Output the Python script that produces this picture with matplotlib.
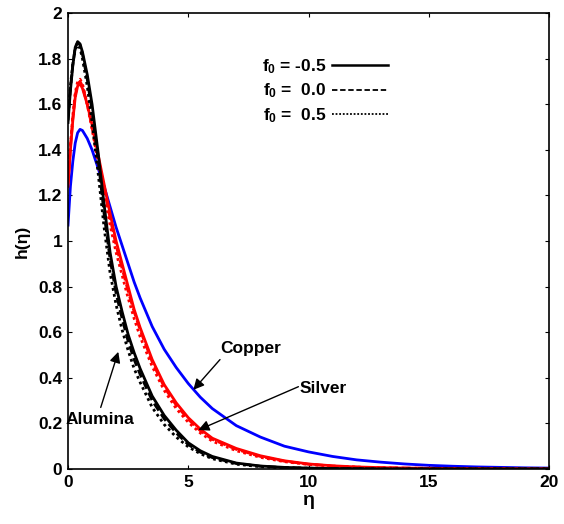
import matplotlib
matplotlib.use("Agg")
import matplotlib.pyplot as plt

plt.rcParams["font.family"] = ["Liberation Sans", "DejaVu Sans"]
plt.rcParams["font.weight"] = "bold"
plt.rcParams["mathtext.fontset"] = "custom"
plt.rcParams["mathtext.rm"] = "Liberation Sans:bold"
plt.rcParams["mathtext.bf"] = "Liberation Sans:bold"
plt.rcParams["mathtext.it"] = "Liberation Sans:bold"

# similarity variable
eta = [0, 0.1, 0.2, 0.3, 0.4, 0.5, 0.6, 0.8, 1.0, 1.25, 1.5, 1.75, 2.0, 2.25,
       2.5, 2.75, 3.0, 3.5, 4.0, 4.5, 5.0, 5.5, 6.0, 7, 8, 9, 10, 11, 12, 13,
       14, 15, 16, 17, 18, 19, 20]

# Copper (the three f0 cases coincide)
h_copper = [1.07, 1.24, 1.35, 1.43, 1.475, 1.49, 1.485, 1.45, 1.40, 1.32, 1.24,
            1.15, 1.06, 0.98, 0.90, 0.82, 0.75, 0.625, 0.525, 0.445, 0.375,
            0.315, 0.265, 0.19, 0.14, 0.10, 0.075, 0.055, 0.04, 0.03, 0.022,
            0.016, 0.012, 0.009, 0.007, 0.005, 0.004]

# Silver
h_silver_m05 = [1.24, 1.40, 1.53, 1.63, 1.68, 1.69, 1.67, 1.60, 1.51, 1.38, 1.25,
                1.12, 1.00, 0.90, 0.80, 0.70, 0.62, 0.48, 0.37, 0.29, 0.225,
                0.175, 0.135, 0.09, 0.058, 0.036, 0.022, 0.014, 0.009, 0.006,
                0.004, 0.003, 0.002, 0.001, 0.001, 0.0, 0.0]
h_silver_00 = [1.25, 1.41, 1.54, 1.64, 1.69, 1.70, 1.68, 1.60, 1.50, 1.37, 1.23,
               1.10, 0.98, 0.88, 0.78, 0.69, 0.61, 0.47, 0.36, 0.28, 0.218,
               0.168, 0.13, 0.086, 0.055, 0.034, 0.021, 0.013, 0.008, 0.005,
               0.004, 0.003, 0.002, 0.001, 0.001, 0.0, 0.0]
h_silver_p05 = [1.26, 1.42, 1.55, 1.65, 1.70, 1.71, 1.69, 1.60, 1.49, 1.35, 1.21,
                1.07, 0.95, 0.85, 0.75, 0.66, 0.58, 0.45, 0.345, 0.265, 0.205,
                0.158, 0.122, 0.08, 0.051, 0.032, 0.02, 0.012, 0.008, 0.005,
                0.003, 0.002, 0.001, 0.001, 0.0, 0.0, 0.0]

# Alumina
h_alumina_m05 = [1.52, 1.66, 1.77, 1.85, 1.875, 1.865, 1.83, 1.73, 1.60, 1.39,
                 1.16, 0.95, 0.80, 0.69, 0.59, 0.51, 0.44, 0.32, 0.235, 0.17,
                 0.115, 0.08, 0.055, 0.026, 0.013, 0.007, 0.004, 0.002, 0.001,
                 0.0, 0.0, 0.0, 0.0, 0.0, 0.0, 0.0, 0.0]
h_alumina_00 = [1.53, 1.67, 1.775, 1.85, 1.87, 1.86, 1.82, 1.71, 1.57, 1.36,
                1.12, 0.92, 0.77, 0.66, 0.56, 0.48, 0.415, 0.30, 0.22, 0.158,
                0.107, 0.074, 0.05, 0.024, 0.012, 0.006, 0.003, 0.002, 0.001,
                0.0, 0.0, 0.0, 0.0, 0.0, 0.0, 0.0, 0.0]
h_alumina_p05 = [1.55, 1.68, 1.78, 1.84, 1.86, 1.845, 1.80, 1.68, 1.52, 1.30,
                 1.06, 0.86, 0.72, 0.61, 0.52, 0.44, 0.38, 0.27, 0.195, 0.14,
                 0.097, 0.067, 0.045, 0.021, 0.010, 0.005, 0.003, 0.001, 0.001,
                 0.0, 0.0, 0.0, 0.0, 0.0, 0.0, 0.0, 0.0]

legend_labels = [r"$\mathbf{f_0}$ = -0.5", r"$\mathbf{f_0}$ =  0.0", r"$\mathbf{f_0}$ =  0.5"]
x_ticks = [0, 5, 10, 15, 20]
y_ticks = [0, 0.2, 0.4, 0.6, 0.8, 1, 1.2, 1.4, 1.6, 1.8, 2]
y_ticklabels = ["0", "0.2", "0.4", "0.6", "0.8", "1", "1.2", "1.4", "1.6", "1.8", "2"]

fig = plt.figure(figsize=(5.64, 5.24), dpi=100)
ax = fig.add_axes([0.1206, 0.105, 0.8528, 0.870])

lw = 2.0
ax.plot(eta, h_copper, color="blue", lw=lw, ls="-")

ax.plot(eta, h_silver_m05, color="red", lw=lw, ls="-")
ax.plot(eta, h_silver_00, color="red", lw=lw, ls=(0, (3, 1.5)))
ax.plot(eta, h_silver_p05, color="red", lw=lw, ls=(0, (1, 1.2)))

ax.plot(eta, h_alumina_m05, color="black", lw=lw, ls="-")
ax.plot(eta, h_alumina_00, color="black", lw=lw, ls=(0, (3, 1.5)))
ax.plot(eta, h_alumina_p05, color="black", lw=lw, ls=(0, (1, 1.2)))

# legend handles (style key only)
h1, = ax.plot([], [], color="black", lw=1.8, ls="-")
h2, = ax.plot([], [], color="black", lw=1.3, ls=(0, (3, 1.5)))
h3, = ax.plot([], [], color="black", lw=1.3, ls=(0, (1, 1)))
ax.legend([h1, h2, h3], legend_labels, loc="upper left",
          bbox_to_anchor=(0.371, 0.937), frameon=False, markerfirst=False,
          handlelength=3.25, handletextpad=0.3, labelspacing=0.32,
          prop={"family": "Liberation Sans", "weight": "bold", "size": 12.5})

ax.set_xlim(0, 20)
ax.set_ylim(0, 2)
ax.set_xticks(x_ticks)
ax.set_yticks(y_ticks)
ax.set_yticklabels(y_ticklabels)
ax.tick_params(direction="in", length=3, width=0.8, labelsize=12.5,
               top=True, right=True, pad=4)
for lab in ax.get_xticklabels() + ax.get_yticklabels():
    lab.set_fontweight("bold")
for sp in ax.spines.values():
    sp.set_linewidth(1.2)

ax.set_xlabel("η", fontsize=14, fontweight="bold", labelpad=2)
ax.set_ylabel("h(η)", fontsize=12.5, fontweight="bold", labelpad=6)

arrow = dict(arrowstyle="-|>", color="black", lw=1.0, mutation_scale=16,
             shrinkA=0, shrinkB=0)
ax.annotate("", xy=(5.21, 0.347), xytext=(6.32, 0.48), arrowprops=arrow)
ax.text(7.6, 0.53, "Copper", ha="center", va="center", fontsize=12.5,
        fontweight="bold")
ax.annotate("", xy=(5.42, 0.171), xytext=(9.58, 0.361), arrowprops=arrow)
ax.text(10.6, 0.355, "Silver", ha="center", va="center", fontsize=12.5,
        fontweight="bold")
ax.annotate("", xy=(2.09, 0.514), xytext=(1.36, 0.27), arrowprops=arrow)
ax.text(1.33, 0.215, "Alumina", ha="center", va="center", fontsize=12.5,
        fontweight="bold")

fig.savefig("out.png", dpi=100)
